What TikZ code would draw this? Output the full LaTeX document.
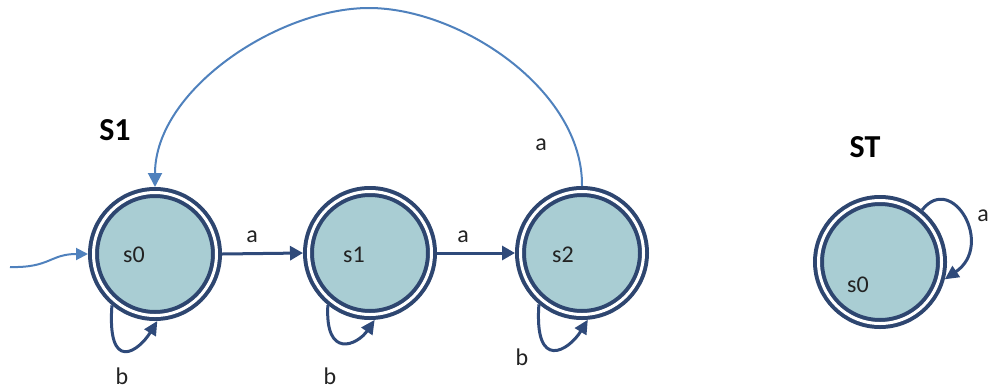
\documentclass[tikz,border=0pt]{standalone}
\usepackage{fontspec}
\setmainfont{Carlito}
\usetikzlibrary{arrows.meta}
\definecolor{ring}{HTML}{2E4670}
\definecolor{statefill}{HTML}{A9CDD3}
\definecolor{arcblue}{HTML}{4F81BD}
\definecolor{edgenavy}{HTML}{2F4A7A}
\definecolor{txt}{HTML}{222222}
\begin{document}
\begin{tikzpicture}[x=1pt,y=-1pt,
  state/.style={circle, draw=ring, line width=4pt, double=white, double distance=3pt,
    fill=statefill, minimum size=123pt, inner sep=0pt, outer sep=5.5pt},
  lbl/.style={font=\fontsize{24}{28}\selectfont, text=txt, inner sep=0pt},
  ttl/.style={font=\bfseries\fontsize{32}{36}\selectfont, text=black, inner sep=0pt},
  trans/.style={draw=edgenavy, line width=3pt, -{Triangle[length=13pt,width=14pt]}},
  loopar/.style={draw=edgenavy, line width=3pt, -{Triangle[length=14pt,width=13pt]}},
  back/.style={draw=arcblue, line width=2pt, -{Triangle[length=14pt,width=14pt]}},
  initar/.style={draw=arcblue, line width=2pt, -{Triangle[length=12pt,width=12pt]}},
]
\useasboundingbox (0,0) rectangle (993,389);

% states
\node[state] (s0) at (155,254) {};
\node[state] (s1) at (370,253) {};
\node[state] (s2) at (582,253) {};
\node[state] (st) at (880,262) {};

% state texts
\node[lbl] (t0) at (134,255) {s0};
\node[lbl] (t1) at (354,255) {s1};
\node[lbl] (t2) at (563,255) {s2};
\node[lbl] (tst) at (858,285) {s0};

% titles
\node[ttl] (S1) at (115,130) {S1};
\node[ttl] (ST) at (865,147) {ST};

% initial arrow
\coordinate (init) at (10,267);
\draw[initar] (init) .. controls (50,268) and (50,254) .. (s0.180);

% transitions
\draw[trans] (s0.east) -- (s1.west);
\draw[trans] (s1.west -| s1.east) -- (s2.west);
\node[lbl] (la1) at (252,237) {a};
\node[lbl] (la2) at (463,237) {a};

% back arc
\draw[back] (s2.90) .. controls (583,90) and (460,8) .. (369,8)
  .. controls (278,8) and (155,90) .. (s0.90);
\node[lbl] (la3) at (541,145) {a};

% loops
\draw[loopar] (s0.230) .. controls +(-5,68) and +(-19,31) .. (s0.272);
\node[lbl] (lb0) at (122,376) {b};
\draw[loopar] (s1.231) .. controls +(-3,55) and +(-17,25) .. (s1.274);
\node[lbl] (lb1) at (330,376) {b};
\draw[loopar] (s2.230) .. controls +(-5,68) and +(-19,31) .. (s2.275);
\node[lbl] (lb2) at (522,357) {b};
\draw[loopar] (st.51) .. controls (952,172) and (995,245) .. (st.345);
\node[lbl] (lst) at (983,216) {a};
\end{tikzpicture}
\end{document}
